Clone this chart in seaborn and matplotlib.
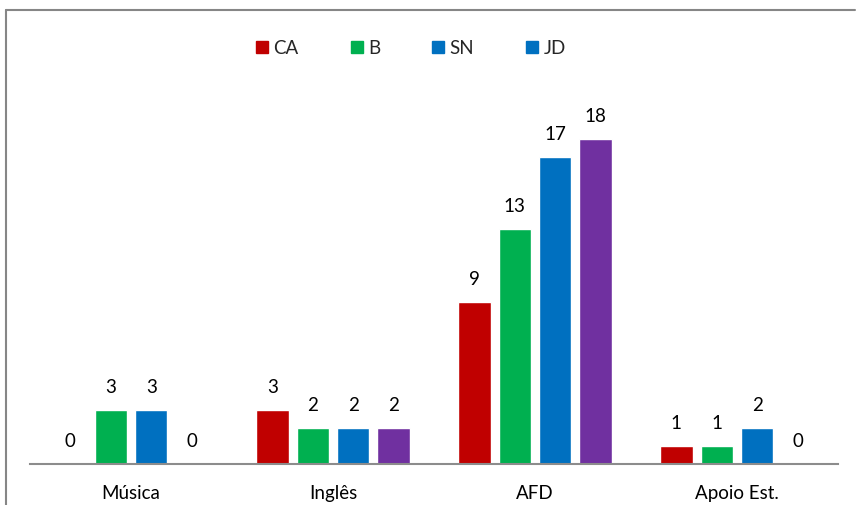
import matplotlib
matplotlib.use("Agg")
import matplotlib.pyplot as plt
from matplotlib.lines import Line2D
import seaborn as sns
import pandas as pd

categories = ["Música", "Inglês", "AFD", "Apoio Est."]
series = ["CA", "B", "SN", "JD"]
ca = [0, 3, 9, 1]
b = [3, 2, 13, 1]
sn = [3, 2, 17, 2]
jd = [0, 2, 18, 0]

bar_colors = ["#C00000", "#00B050", "#0070C0", "#7030A0"]
legend_colors = ["#C00000", "#00B050", "#0070C0", "#0070C0"]

df = pd.DataFrame({
    "cat": categories * 4,
    "serie": [s for s in series for _ in categories],
    "val": ca + b + sn + jd,
})

sns.set_theme(style="white")
plt.rcParams["font.family"] = ["Lato", "DejaVu Sans"]

fig = plt.figure(figsize=(8.56, 5.05), dpi=100)
W, H = 856, 505
ax = fig.add_axes([30 / W, (H - 464) / H, 808 / W, 361 / H])

sns.barplot(data=df, x="cat", y="val", hue="serie", order=categories,
            hue_order=series, palette=bar_colors, width=0.8, gap=0.2,
            saturation=1, ax=ax, legend=False)

for cont in ax.containers:
    ax.bar_label(cont, fmt="%g", padding=10, fontsize=13.5, color="#000000")

ax.set_xlim(-0.5, 3.5)
ax.set_ylim(0, 20)
ax.set_xlabel("")
ax.set_ylabel("")
ax.set_yticks([])
ax.tick_params(axis="x", length=0, labelsize=13.5, pad=15, colors="#000000")
for side in ["top", "left", "right"]:
    ax.spines[side].set_visible(False)
ax.spines["bottom"].set_color("#8C8C8C")
ax.spines["bottom"].set_linewidth(1.5)

handles = [Line2D([], [], marker="s", linestyle="none", markersize=8,
                  markerfacecolor=c, markeredgecolor=c) for c in legend_colors]
fig.legend(handles, series, loc="center", bbox_to_anchor=(411 / W, 1 - 48 / H),
           ncol=4, frameon=False, fontsize=13.5, handlelength=0.6,
           handletextpad=0.3, columnspacing=2.8)

# outer chart frame
fig.add_artist(Line2D([6 / W, 6 / W], [0, 1 - 10 / H], transform=fig.transFigure,
                      color="#868686", linewidth=1.5))
fig.add_artist(Line2D([6 / W, 855 / W], [1 - 10 / H, 1 - 10 / H],
                      transform=fig.transFigure, color="#868686", linewidth=1.5))

fig.savefig("out.png", dpi=100)
